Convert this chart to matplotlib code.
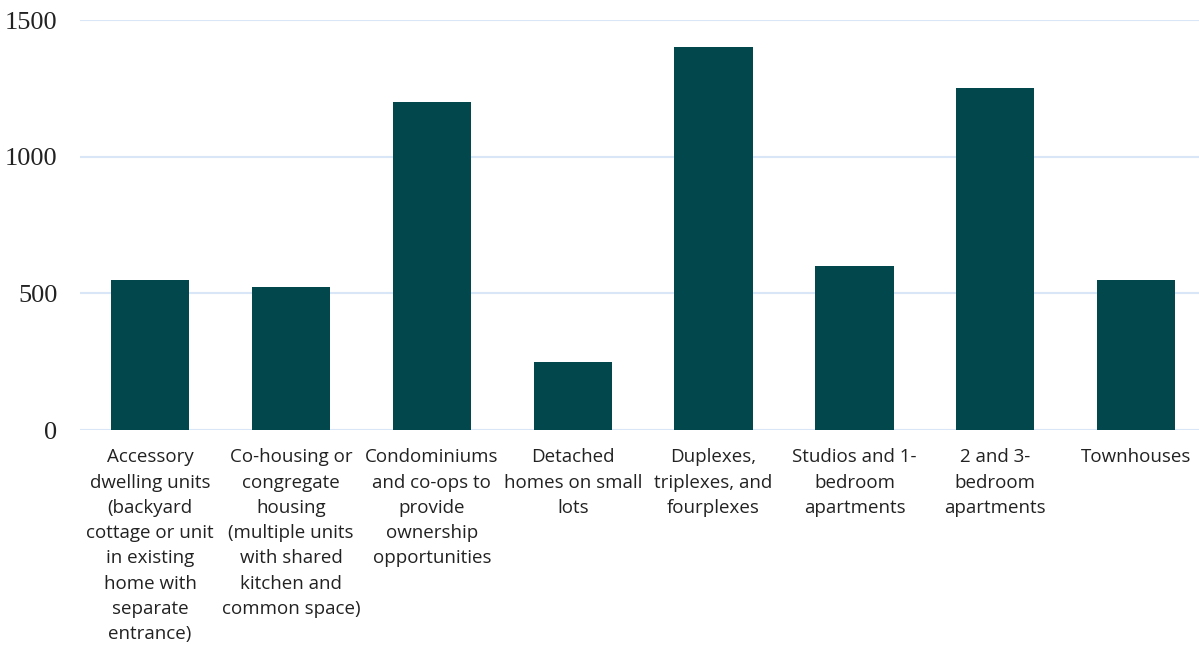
import numpy as np
import matplotlib.pyplot as plt

# categories and values
labels = ["Accessory\ndwelling units\n(backyard\ncottage or unit\nin existing\nhome with\nseparate\nentrance)",
          "Co-housing or\ncongregate\nhousing\n(multiple units\nwith shared\nkitchen and\ncommon space)",
          "Condominiums\nand co-ops to\nprovide\nownership\nopportunities",
          "Detached\nhomes on small\nlots",
          "Duplexes,\ntriplexes, and\nfourplexes",
          "Studios and 1-\nbedroom\napartments",
          "2 and 3-\nbedroom\napartments",
          "Townhouses"]
values = [550, 525, 1200, 250, 1400, 600, 1250, 550]
yticks = [0, 500, 1000, 1500]

fig = plt.figure(figsize=(11.99, 6.46), dpi=100)
ax = fig.add_axes([0.0664, 0.334, 0.940, 0.635])

x = np.arange(len(values))
ax.bar(x, values, width=0.555, color="#01474B", zorder=3)

ax.set_xlim(-0.5, len(values) - 0.5)
ax.set_ylim(0, 1500)
ax.set_yticks(yticks)
ax.set_yticklabels([str(t) for t in yticks], family="Liberation Serif", fontsize=19, color="#222222")
ax.set_xticks(x)
ax.set_xticklabels(labels, family="Open Sans", fontsize=13.5, color="#222222", linespacing=1.52, va="top")
ax.tick_params(axis="both", length=0)
ax.tick_params(axis="x", pad=13)
ax.tick_params(axis="y", pad=16)
ax.grid(axis="y", color="#D9E6F7", linewidth=1.5, zorder=0)
for s in ax.spines.values():
    s.set_visible(False)

plt.savefig("out.png", dpi=100)
